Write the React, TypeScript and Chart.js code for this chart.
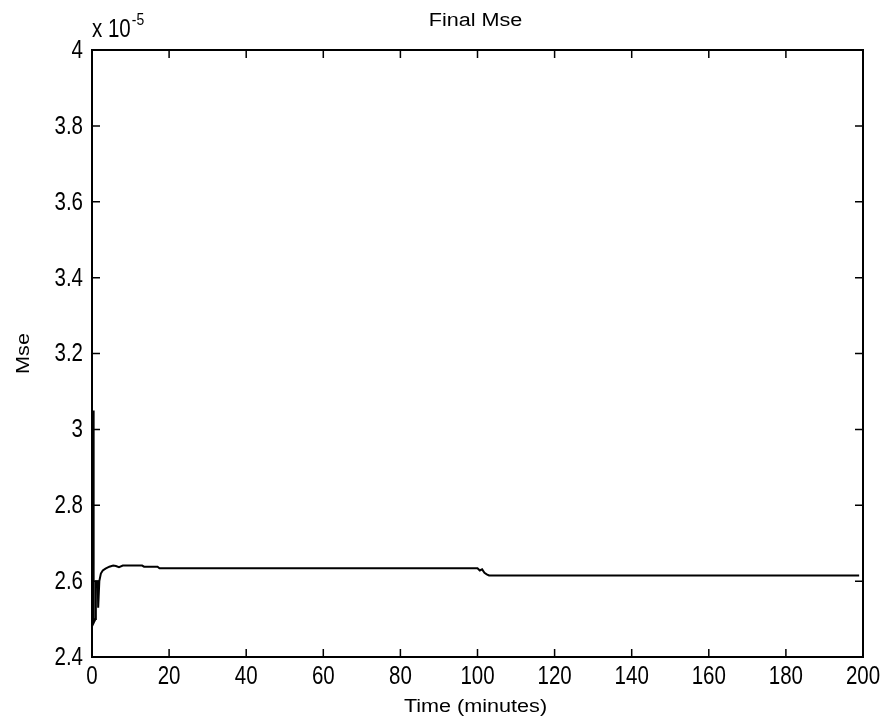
import React, { useEffect, useRef } from "react";
import { Chart, registerables } from "chart.js";

Chart.register(...registerables);

// Time in minutes
const TIME = [
  0.3, 0.35, 0.5, 0.9, 1.0, 1.5, 1.6, 1.9, 2.3, 2.8, 3.5, 4.5, 5.5, 6.2, 7.0, 8.0,
  10.0, 13.0, 13.5, 17.0, 17.5, 20.0, 40.0, 60.0, 80.0, 100.0, 100.6, 101.2, 101.8,
  102.4, 103.0, 120.0, 140.0, 160.0, 180.0, 199.0,
];
// Final MSE, in units of 1e-5
const MSE = [
  3.05, 2.6, 2.49, 2.5, 2.6, 2.6, 2.53, 2.6, 2.62, 2.628, 2.633, 2.638, 2.641, 2.64,
  2.637, 2.641, 2.641, 2.641, 2.638, 2.638, 2.634, 2.634, 2.634, 2.634, 2.634, 2.634,
  2.628, 2.631, 2.622, 2.618, 2.615, 2.615, 2.615, 2.615, 2.615, 2.615,
];
const X_MIN = 0;
const X_MAX = 200;
const X_STEP = 20;
const Y_MIN = 2.4;
const Y_MAX = 4;
const Y_STEP = 0.2;
const TITLE = "Final Mse";
const X_LABEL = "Time (minutes)";
const Y_LABEL = "Mse";
const EXP_BASE = "x 10";
const EXP_POWER = "-5";

const SANS = "'Liberation Sans', Arial, sans-serif";
const NARROW_SCALE = 0.82;

const fmtY = (v: number) => String(Number(v.toFixed(1)));

function narrowText(ctx: any, text: string, x: number, y: number, size: number, align: string, baseline: string) {
  ctx.save();
  ctx.translate(x, y);
  ctx.scale(NARROW_SCALE, 1);
  ctx.font = `${size}px ${SANS}`;
  ctx.textAlign = align;
  ctx.textBaseline = baseline;
  ctx.fillText(text, 0, 0);
  const w = ctx.measureText(text).width * NARROW_SCALE;
  ctx.restore();
  return w;
}

function wideText(ctx: any, text: string, x: number, y: number, rot: number) {
  ctx.save();
  ctx.translate(x, y);
  if (rot) ctx.rotate(rot);
  ctx.scale(1.2, 1);
  ctx.font = `18px ${SANS}`;
  ctx.textAlign = "center";
  ctx.textBaseline = "middle";
  ctx.fillText(text, 0, 0);
  ctx.restore();
}

const matlabPlugin = {
  id: "matlabFrame",
  afterDraw(chart: any) {
    const { ctx, chartArea } = chart;
    const { left, right, top, bottom } = chartArea;
    const xs = chart.scales.x;
    const ys = chart.scales.y;
    const tl = 8;
    ctx.save();
    ctx.strokeStyle = "#000";
    ctx.lineWidth = 2;
    ctx.strokeRect(left, top, right - left, bottom - top);
    ctx.lineWidth = 1.5;
    ctx.beginPath();
    xs.ticks.forEach((t: any) => {
      const px = xs.getPixelForValue(t.value);
      ctx.moveTo(px, bottom);
      ctx.lineTo(px, bottom - tl);
      ctx.moveTo(px, top);
      ctx.lineTo(px, top + tl);
    });
    ys.ticks.forEach((t: any) => {
      const py = ys.getPixelForValue(t.value);
      ctx.moveTo(left, py);
      ctx.lineTo(left + tl, py);
      ctx.moveTo(right, py);
      ctx.lineTo(right - tl, py);
    });
    ctx.stroke();

    ctx.fillStyle = "#000";
    // tick labels
    xs.ticks.forEach((t: any) => {
      const px = xs.getPixelForValue(t.value);
      narrowText(ctx, String(t.value), px, bottom + 20, 25, "center", "middle");
    });
    ys.ticks.forEach((t: any) => {
      const py = ys.getPixelForValue(t.value);
      narrowText(ctx, fmtY(t.value), left - 9, py + 1, 25, "right", "middle");
    });

    const cx = (left + right) / 2;
    const cy = (top + bottom) / 2;
    wideText(ctx, TITLE, cx - 2, 21, 0);
    wideText(ctx, X_LABEL, cx - 2, 707, 0);
    wideText(ctx, Y_LABEL, 24, cy, -Math.PI / 2);

    // exponent
    const w = narrowText(ctx, EXP_BASE, left, 37, 25, "left", "alphabetic");
    narrowText(ctx, EXP_POWER, left + w + 1, 25, 17, "left", "alphabetic");
    ctx.restore();
  },
};

export default function App() {
  const ref = useRef<HTMLCanvasElement | null>(null);
  useEffect(() => {
    if (!ref.current) return;
    const points = TIME.map((t, i) => ({ x: t, y: MSE[i] }));
    const chart = new Chart(ref.current, {
      type: "scatter",
      data: {
        datasets: [
          {
            data: points,
            showLine: true,
            borderColor: "#000",
            borderWidth: 2,
            pointRadius: 0,
            tension: 0,
            fill: false,
          },
        ],
      },
      options: {
        animation: false,
        responsive: false,
        maintainAspectRatio: false,
        layout: { padding: { left: 0, right: 23, top: 50, bottom: 0 } },
        plugins: { legend: { display: false }, tooltip: { enabled: false }, title: { display: false } },
        scales: {
          x: {
            type: "linear",
            min: X_MIN,
            max: X_MAX,
            border: { display: false },
            grid: { display: false, drawTicks: false },
            ticks: { stepSize: X_STEP, display: false },
            afterFit: (s: any) => {
              s.height = 69;
            },
          },
          y: {
            type: "linear",
            min: Y_MIN,
            max: Y_MAX,
            border: { display: false },
            grid: { display: false, drawTicks: false },
            ticks: { stepSize: Y_STEP, display: false },
            afterFit: (s: any) => {
              s.width = 92;
            },
          },
        },
      },
      plugins: [matlabPlugin],
    });
    return () => chart.destroy();
  }, []);
  return (
    <div style={{ position: "absolute", left: 0, top: 0, width: 886, height: 726, background: "#fff" }}>
      <canvas ref={ref} width={886} height={726} />
    </div>
  );
}
